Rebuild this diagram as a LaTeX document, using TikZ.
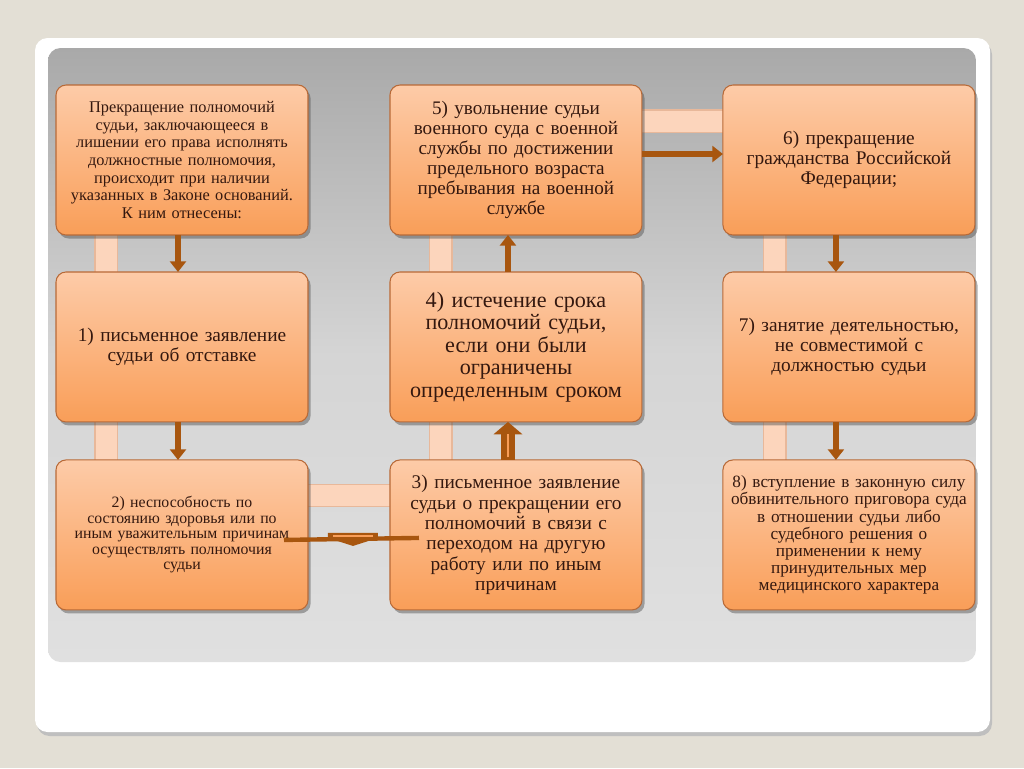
\documentclass[tikz,border=0pt]{standalone}
\usepackage{fontspec}
\setmainfont{Liberation Serif}
\usetikzlibrary{positioning, arrows.meta, shadows, calc}

\definecolor{pagebg}{HTML}{E3DFD5}
\definecolor{panelhi}{HTML}{A9A9A9}
\definecolor{panello}{HTML}{E0E0E0}
\definecolor{boxtop}{HTML}{FDCBA8}
\definecolor{boxbot}{HTML}{F99E58}
\definecolor{boxedge}{HTML}{B86A38}
\definecolor{barpeach}{HTML}{FCD5BC}
\definecolor{baredge}{HTML}{E8B89A}
\definecolor{arrowbrown}{HTML}{A8560F}
\definecolor{ink}{HTML}{34180F}

\pgfdeclarelayer{panel}
\pgfdeclarelayer{bars}
\pgfsetlayers{panel,bars,main}

\begin{document}
\begin{tikzpicture}[
    x=0.02cm, y=-0.02cm,
    stage/.style = {
        draw=boxedge, line width=0.6pt, rounded corners=0.2cm,
        top color=boxtop, bottom color=boxbot,
        minimum width=5cm, minimum height=3cm, text width=4.9cm,
        align=center, text=ink, inner sep=2pt, outer sep=0pt,
        drop shadow={shadow xshift=1.5pt, shadow yshift=-2pt, opacity=0.45, fill=black!70}
    },
    bar/.style = {draw=baredge, line width=0.6pt, double=barpeach, double distance=0.42cm},
    link/.style = {draw=arrowbrown, line width=3.2pt, -{Triangle[width=9pt,length=6pt]}}
  ]
    \useasboundingbox (0,0) rectangle (1024,768);

    \begin{pgfonlayer}{panel}
    \fill[pagebg] (0,0) rectangle (1024,768);
    \fill[black!25, rounded corners=0.25cm] (37,42) rectangle (992,736);  % тень карточки
    \fill[white, rounded corners=0.25cm] (35,38) rectangle (990,732);
    \shade[rounded corners=0.25cm, top color=panelhi, bottom color=panello, middle color=panello!95!black]
        (48,48) rectangle (976,662);
    \end{pgfonlayer}

    % левая колонка
    \node[stage, font=\fontsize{9.3}{10}\selectfont] (intro) at (182,160)
        {Прекращение полномочий\\ судьи, заключающееся в\\ лишении его права исполнять\\ должностные полномочия,\\ происходит при наличии\\ указанных в Законе оснований.\\ К ним отнесены:};
    \node[stage, font=\fontsize{11}{11.5}\selectfont, below=0.74cm of intro] (s1)
        {1) письменное заявление\\ судьи об отставке};
    \node[stage, font=\fontsize{9}{8.8}\selectfont, below=0.76cm of s1] (s2)
        {2) неспособность по\\ состоянию здоровья или по\\ иным уважительным причинам\\ осуществлять полномочия\\ судьи};

    % средняя колонка
    \node[stage, font=\fontsize{10.9}{11.4}\selectfont, right=1.64cm of intro] (s5)
        {5) увольнение судьи\\ военного суда с военной\\ службы по достижении\\ предельного возраста\\ пребывания на военной\\ службе};
    \node[stage, font=\fontsize{12.6}{12.8}\selectfont, below=0.74cm of s5] (s4)
        {4) истечение срока\\ полномочий судьи,\\ если они были\\ ограничены\\ определенным сроком};
    \node[stage, font=\fontsize{11}{11.6}\selectfont, below=0.76cm of s4] (s3)
        {3) письменное заявление\\ судьи о прекращении его\\ полномочий в связи с\\ переходом на другую\\ работу или по иным\\ причинам};

    % правая колонка
    \node[stage, font=\fontsize{11}{11.4}\selectfont, right=1.62cm of s5] (s6)
        {6) прекращение\\ гражданства Российской\\ Федерации;};
    \node[stage, font=\fontsize{11}{11.4}\selectfont, below=0.74cm of s6] (s7)
        {7) занятие деятельностью,\\ не совместимой с\\ должностью судьи};
    \node[stage, font=\fontsize{9.8}{9.7}\selectfont, below=0.76cm of s7] (s8)
        {8) вступление в законную силу\\ обвинительного приговора суда\\ в отношении судьи либо\\ судебного решения о\\ применении к нему\\ принудительных мер\\ медицинского характера};

    % светлые полосы позади блоков
    \begin{pgfonlayer}{bars}
    \draw[bar] ([xshift=-1.52cm]intro.center) -- ([xshift=-1.52cm]s2.center);
    \draw[bar] ([xshift=-1.5cm]s5.center) -- ([xshift=-1.5cm]s3.center);
    \draw[bar] ([xshift=-1.48cm]s6.center) -- ([xshift=-1.48cm]s8.center);
    \draw[bar] ([yshift=0.78cm]s2.center) -- ([yshift=0.78cm]s3.center);
    \draw[bar] ([yshift=0.78cm]s5.center) -- ([yshift=0.78cm]s6.center);
    \end{pgfonlayer}

    % стрелки
    \draw[link] ([xshift=-0.08cm]intro.south) -- ([xshift=-0.08cm]s1.north);
    \draw[link] ([xshift=-0.08cm]s1.south) -- ([xshift=-0.08cm]s2.north);
    \draw[link] ([xshift=-0.16cm]s4.north) -- ([xshift=-0.16cm]s5.south);
    \draw[link] ([yshift=0.12cm]s5.east) -- ([yshift=0.12cm]s6.west);
    \draw[link] ([xshift=-0.26cm]s6.south) -- ([xshift=-0.26cm]s7.north);
    \draw[link] ([xshift=-0.26cm]s7.south) -- ([xshift=-0.26cm]s8.north);
    \draw[link, line width=8.5pt, -{Triangle[width=16pt,length=7pt]}]
        ([xshift=-0.16cm]s3.north) -- ([xshift=-0.16cm]s4.south);
    \draw[boxbot, line width=1.2pt] ([xshift=-0.16cm,yshift=0.05cm]s3.north) -- ([xshift=-0.16cm,yshift=-0.24cm]s4.south);

    % плоская стрелка между 3) и 2)
    \draw[arrowbrown, line width=2.5pt] ($(s2.east)+(-24,5)$) -- ($(s3.west)+(29,3)$);
    \coordinate (flat) at ($(s2.east)!0.5!(s3.west)+(4,3)$);
    \fill[arrowbrown] ($(flat)+(-25,-5)$) -- ($(flat)+(25,-5)$) -- ($(flat)+(25,0)$)
        -- ($(flat)+(0,8)$) -- ($(flat)+(-25,0)$) -- cycle;
    \fill[boxbot] ($(flat)+(-20,-3)$) rectangle ($(flat)+(20,-1)$);
\end{tikzpicture}
\end{document}
